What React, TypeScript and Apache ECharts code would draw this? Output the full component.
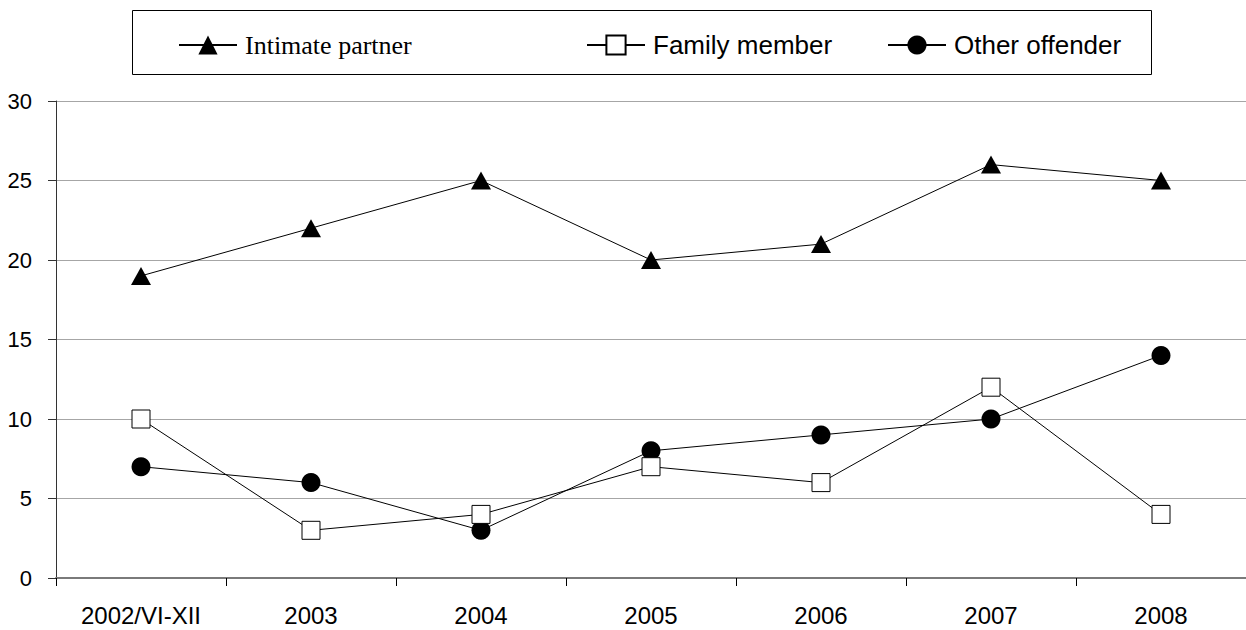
import React, { useEffect, useRef } from "react";
import * as echarts from "echarts";

const categories = ["2002/VI-XII", "2003", "2004", "2005", "2006", "2007", "2008"];
const intimatePartner = [19, 22, 25, 20, 21, 26, 25];
const familyMember = [10, 3, 4, 7, 6, 12, 4];
const otherOffender = [7, 6, 3, 8, 9, 10, 14];
const yTicks = { min: 0, max: 30, interval: 5 };

export default function App() {
  const ref = useRef<HTMLDivElement>(null);
  useEffect(() => {
    if (!ref.current) return;
    const chart = echarts.init(ref.current, undefined, { renderer: "svg" });
    const sans = "Liberation Sans, Arial, sans-serif";
    const serif = "Liberation Serif, Times New Roman, serif";
    const legendCommon = {
      top: 32,
      itemWidth: 58,
      itemHeight: 24,
      orient: "horizontal" as const,
      selectedMode: false,
      padding: 0,
    };
    chart.setOption({
      animation: false,
      backgroundColor: "#ffffff",
      grid: { left: 56, right: 0, top: 101, bottom: 52 },
      graphic: [
        {
          type: "rect",
          shape: { x: 132.5, y: 10.5, width: 1019, height: 64 },
          style: { fill: "none", stroke: "#000", lineWidth: 1 },
          z: 0,
        },
      ],
      legend: [
        {
          ...legendCommon,
          left: 178,
          data: ["Intimate partner"],
          textStyle: { fontFamily: serif, fontSize: 26, color: "#000", padding: [0, 0, 0, 3] },
        },
        {
          ...legendCommon,
          left: 586,
          data: ["Family member"],
          textStyle: { fontFamily: sans, fontSize: 26, color: "#000", padding: [0, 0, 0, 3] },
        },
        {
          ...legendCommon,
          left: 887,
          data: ["Other offender"],
          textStyle: { fontFamily: sans, fontSize: 26, color: "#000", padding: [0, 0, 0, 3] },
        },
      ],
      xAxis: {
        type: "category",
        data: categories,
        boundaryGap: true,
        axisLine: { show: true, lineStyle: { color: "#7a7a7a", width: 2 } },
        axisTick: { show: true, length: 8, lineStyle: { color: "#000", width: 1 } },
        axisLabel: { fontFamily: sans, fontSize: 24, color: "#000", margin: 25 },
        splitLine: { show: false },
      },
      yAxis: {
        type: "value",
        min: yTicks.min,
        max: yTicks.max,
        interval: yTicks.interval,
        axisLine: { show: true, lineStyle: { color: "#333", width: 1 } },
        axisTick: { show: true, length: 8, lineStyle: { color: "#333", width: 1 } },
        axisLabel: { fontFamily: sans, fontSize: 22, color: "#000", margin: 24 },
        splitLine: { show: true, lineStyle: { color: "#a6a6a6", width: 1 } },
      },
      series: [
        {
          name: "Intimate partner",
          type: "line",
          data: intimatePartner,
          symbol: "triangle",
          symbolSize: [20, 18],
          lineStyle: { color: "#000", width: 1 },
          itemStyle: { color: "#000" },
        },
        {
          name: "Family member",
          type: "line",
          data: familyMember,
          symbol: "rect",
          symbolSize: 18,
          lineStyle: { color: "#000", width: 1 },
          itemStyle: { color: "#fff", borderColor: "#000", borderWidth: 1 },
          z: 3,
        },
        {
          name: "Other offender",
          type: "line",
          data: otherOffender,
          symbol: "circle",
          symbolSize: 19,
          lineStyle: { color: "#000", width: 1 },
          itemStyle: { color: "#000" },
          z: 2,
        },
      ],
    });
    return () => chart.dispose();
  }, []);
  return (
    <div
      ref={ref}
      style={{ position: "absolute", left: 0, top: 0, width: 1246, height: 630, background: "#fff" }}
    />
  );
}
